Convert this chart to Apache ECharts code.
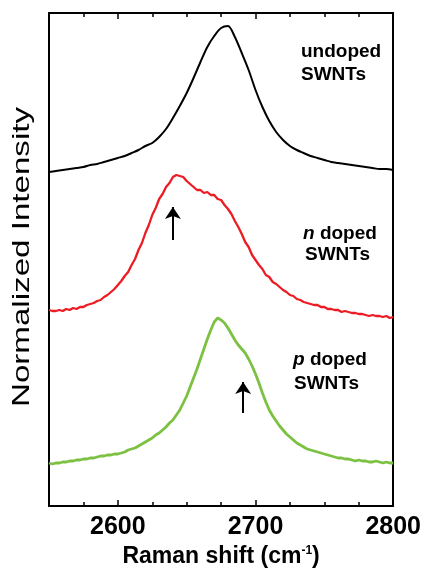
<!DOCTYPE html>
<html>
<head>
<meta charset="utf-8">
<script src="https://cdn.jsdelivr.net/npm/echarts@6/dist/echarts.min.js"></script>
<style>
  html, body { margin: 0; padding: 0; background: #fff; }
  #chart { width: 424px; height: 579px; }
</style>
</head>
<body>
<div id="chart"></div>
<script>
// Raman shift grid for the undoped spectrum (cm^-1)
const ramanShift = [2550,2555,2560,2565,2570,2575,2580,2585,2590,2595,
  2600,2605,2610,2615,2620,2625,2630,2635,2640,2645,
  2650,2655,2660,2665,2670,2675,2680,2685,2690,2695,
  2700,2705,2710,2715,2720,2725,2730,2735,2740,2745,
  2750,2755,2760,2765,2770,2775,2780,2785,2790,2795,2800];

// Finer Raman shift grid for the doped spectra (cm^-1)
const ramanShiftFine = [2550,2552.5,2555,2557.5,2560,2562.5,2565,2567.5,2570,2572.5,
  2575,2577.5,2580,2582.5,2585,2587.5,2590,2592.5,2595,2597.5,
  2600,2602.5,2605,2607.5,2610,2612.5,2615,2617.5,2620,2622.5,
  2625,2627.5,2630,2632.5,2635,2637.5,2640,2642.5,2645,2647.5,
  2650,2652.5,2655,2657.5,2660,2662.5,2665,2667.5,2670,2672.5,
  2675,2677.5,2680,2682.5,2685,2687.5,2690,2692.5,2695,2697.5,
  2700,2702.5,2705,2707.5,2710,2712.5,2715,2717.5,2720,2722.5,
  2725,2727.5,2730,2732.5,2735,2737.5,2740,2742.5,2745,2747.5,
  2750,2752.5,2755,2757.5,2760,2762.5,2765,2767.5,2770,2772.5,
  2775,2777.5,2780,2782.5,2785,2787.5,2790,2792.5,2795,2797.5,2800];

// Normalized intensity, stacked with vertical offsets (a.u.)
const undoped = [3.34,3.35,3.36,3.37,3.38,3.39,3.41,3.42,3.44,3.46,
  3.48,3.50,3.53,3.56,3.60,3.63,3.69,3.77,3.88,4.00,
  4.13,4.28,4.44,4.59,4.70,4.78,4.80,4.69,4.53,4.36,
  4.16,3.99,3.85,3.74,3.66,3.60,3.56,3.53,3.50,3.48,
  3.46,3.44,3.43,3.42,3.41,3.40,3.39,3.38,3.37,3.37,3.36];

const nDoped = [1.96,1.95,1.95,1.96,1.95,1.97,1.96,1.98,1.97,1.99,
  1.99,2.01,2.02,2.03,2.05,2.06,2.09,2.11,2.14,2.17,
  2.21,2.25,2.30,2.34,2.41,2.47,2.56,2.63,2.73,2.81,
  2.91,2.98,3.07,3.12,3.19,3.23,3.29,3.31,3.30,3.29,
  3.25,3.22,3.19,3.16,3.16,3.13,3.14,3.11,3.11,3.07,
  3.06,3.01,2.97,2.92,2.85,2.79,2.72,2.64,2.59,2.51,
  2.46,2.41,2.37,2.31,2.29,2.24,2.22,2.19,2.16,2.14,
  2.11,2.10,2.07,2.06,2.04,2.03,2.02,2.01,2.01,1.99,
  1.99,1.97,1.97,1.96,1.96,1.94,1.95,1.94,1.93,1.93,
  1.92,1.92,1.91,1.90,1.91,1.90,1.90,1.89,1.90,1.88,1.89];

const pDoped = [0.43,0.42,0.43,0.43,0.44,0.44,0.45,0.45,0.46,0.46,
  0.47,0.47,0.48,0.48,0.49,0.50,0.50,0.51,0.51,0.52,
  0.52,0.53,0.54,0.56,0.57,0.58,0.60,0.62,0.64,0.66,
  0.68,0.71,0.73,0.76,0.79,0.83,0.86,0.91,0.96,1.03,
  1.10,1.19,1.28,1.37,1.47,1.57,1.67,1.76,1.84,1.88,
  1.86,1.83,1.78,1.72,1.66,1.61,1.57,1.53,1.47,1.40,
  1.32,1.23,1.13,1.04,0.96,0.90,0.85,0.80,0.76,0.72,
  0.69,0.66,0.63,0.61,0.59,0.57,0.56,0.55,0.54,0.53,
  0.52,0.51,0.50,0.49,0.48,0.48,0.47,0.47,0.46,0.45,
  0.46,0.45,0.45,0.44,0.44,0.45,0.44,0.43,0.44,0.43,0.43];

// Axis ticks and labels
const tickLabels = [2600, 2700, 2800];
const majorTicks = [2600, 2700];
const minorTicks = [2575, 2625, 2650, 2675, 2725, 2750, 2775];

// Peak-shift arrows: [shift, tail, tip]
const nArrow = [2640, 2.66, 2.99];
const pArrow = [2691, 0.93, 1.24];

const FONT = '"Liberation Sans", Arial, Helvetica, sans-serif';

function pairs(xs, ys) { return xs.map((x, i) => [x, ys[i]]); }

function arrowMark(a) {
  return {
    silent: true,
    symbol: ['none', 'arrow'],
    symbolSize: 12,
    lineStyle: { color: '#000', width: 2, type: 'solid' },
    label: { show: false },
    emphasis: { disabled: true },
    animation: false,
    data: [[{ coord: [a[0], a[1]] }, { coord: [a[0], a[2]] }]]
  };
}

const chart = echarts.init(document.getElementById('chart'), null, { renderer: 'canvas' });

const tickStyle = { color: '#000', width: 1.5 };

chart.setOption({
  animation: false,
  backgroundColor: '#fff',
  grid: { left: 49, right: 30, top: 13, bottom: 73 },
  xAxis: [
    {
      type: 'value', position: 'bottom', min: 2550, max: 2800,
      axisLine: { show: true, onZero: false, lineStyle: { color: '#000', width: 2 } },
      axisTick: { show: true, inside: true, length: 6, customValues: majorTicks, lineStyle: tickStyle },
      axisLabel: {
        show: true, customValues: tickLabels, margin: 9,
        formatter: (v) => String(v),
        color: '#000', fontFamily: FONT, fontWeight: 'bold', fontSize: 25
      },
      splitLine: { show: false },
      name: 'Raman shift (cm{sup|-1})',
      nameLocation: 'middle', nameGap: 37,
      nameTextStyle: {
        color: '#000', fontFamily: FONT, fontWeight: 'bold', fontSize: 23,
        rich: {
          sup: { fontFamily: FONT, fontWeight: 'bold', fontSize: 12, verticalAlign: 'top', padding: [0, 0, 12, 0], color: '#000' }
        }
      }
    },
    {
      type: 'value', position: 'bottom', min: 2550, max: 2800,
      axisLine: { show: false, onZero: false },
      axisTick: { show: true, inside: true, length: 4, customValues: minorTicks, lineStyle: tickStyle },
      axisLabel: { show: false },
      splitLine: { show: false }
    },
    {
      type: 'value', position: 'top', min: 2550, max: 2800,
      axisLine: { show: true, onZero: false, lineStyle: { color: '#000', width: 2 } },
      axisTick: { show: true, inside: true, length: 6, customValues: majorTicks, lineStyle: tickStyle },
      axisLabel: { show: false },
      splitLine: { show: false }
    },
    {
      type: 'value', position: 'top', min: 2550, max: 2800,
      axisLine: { show: false, onZero: false },
      axisTick: { show: true, inside: true, length: 4, customValues: minorTicks, lineStyle: tickStyle },
      axisLabel: { show: false },
      splitLine: { show: false }
    }
  ],
  yAxis: [
    {
      type: 'value', position: 'left', min: 0, max: 4.93,
      axisLine: { show: true, onZero: false, lineStyle: { color: '#000', width: 2 } },
      axisTick: { show: false }, axisLabel: { show: false }, splitLine: { show: false }
    },
    {
      type: 'value', position: 'right', min: 0, max: 4.93,
      axisLine: { show: true, onZero: false, lineStyle: { color: '#000', width: 2 } },
      axisTick: { show: false }, axisLabel: { show: false }, splitLine: { show: false }
    }
  ],
  series: [
    {
      name: 'undoped', type: 'line', data: pairs(ramanShift, undoped),
      showSymbol: false, smooth: 0.3, silent: true,
      lineStyle: { color: '#000', width: 2 }
    },
    {
      name: 'n doped', type: 'line', data: pairs(ramanShiftFine, nDoped),
      showSymbol: false, smooth: false, silent: true,
      lineStyle: { color: '#ec1c24', width: 2.3 },
      markLine: arrowMark(nArrow)
    },
    {
      name: 'p doped', type: 'line', data: pairs(ramanShiftFine, pDoped),
      showSymbol: false, smooth: false, silent: true,
      lineStyle: { color: '#7cc142', width: 2.8 },
      markLine: arrowMark(pArrow)
    }
  ],
  graphic: [
    {
      type: 'text', x: 22, y: 257, rotation: Math.PI / 2, scaleX: 1.38, silent: true,
      style: {
        text: 'Normalized Intensity', fill: '#000', font: '24px ' + FONT,
        align: 'center', verticalAlign: 'middle'
      }
    },
    { type: 'text', x: 301, y: 51.5, silent: true,
      style: { text: 'undoped', fill: '#000', font: 'bold 19px ' + FONT, verticalAlign: 'middle' } },
    { type: 'text', x: 301, y: 75, silent: true,
      style: { text: 'SWNTs', fill: '#000', font: 'bold 19px ' + FONT, verticalAlign: 'middle' } },
    { type: 'text', x: 303, y: 233.5, silent: true,
      style: { text: '{i|n} doped', fill: '#000', font: 'bold 19px ' + FONT, verticalAlign: 'middle',
        rich: { i: { fontStyle: 'italic', fontWeight: 'bold', fontSize: 19, fontFamily: FONT } } } },
    { type: 'text', x: 305, y: 255, silent: true,
      style: { text: 'SWNTs', fill: '#000', font: 'bold 19px ' + FONT, verticalAlign: 'middle' } },
    { type: 'text', x: 293, y: 360, silent: true,
      style: { text: '{i|p} doped', fill: '#000', font: 'bold 19px ' + FONT, verticalAlign: 'middle',
        rich: { i: { fontStyle: 'italic', fontWeight: 'bold', fontSize: 19, fontFamily: FONT } } } },
    { type: 'text', x: 294, y: 383.5, silent: true,
      style: { text: 'SWNTs', fill: '#000', font: 'bold 19px ' + FONT, verticalAlign: 'middle' } }
  ]
});
</script>
</body>
</html>
